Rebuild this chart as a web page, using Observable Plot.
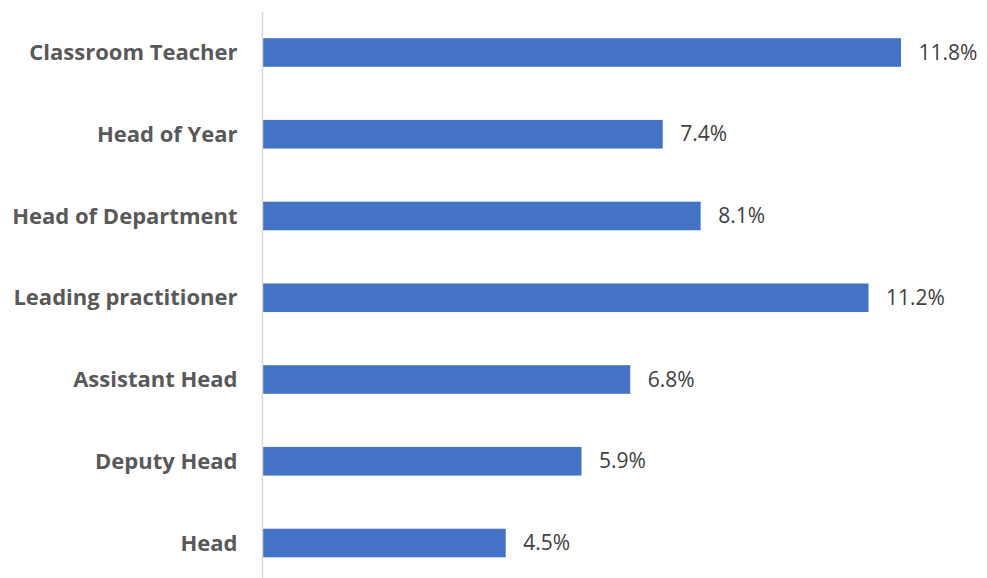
<!DOCTYPE html>
<html>
<head>
<meta charset="utf-8">
<script src="https://cdn.jsdelivr.net/npm/d3@7"></script>
<script src="https://cdn.jsdelivr.net/npm/@observablehq/plot@0.6"></script>
<style>
  html, body { margin: 0; padding: 0; background: #fff; }
  #chart svg { display: block; }
</style>
</head>
<body>
<div id="chart"></div>
<script>
const roles = ["Classroom Teacher", "Head of Year", "Head of Department", "Leading practitioner", "Assistant Head", "Deputy Head", "Head"];
const values = [11.8, 7.4, 8.1, 11.2, 6.8, 5.9, 4.5];

const data = roles.map((r, i) => ({ role: r, value: values[i] }));

const chart = Plot.plot({
  width: 987,
  height: 578,
  marginLeft: 262,
  marginRight: 86,
  marginTop: 12,
  marginBottom: 0,
  style: { fontFamily: "'Open Sans', sans-serif", background: "#fff" },
  x: { domain: [0, 11.8], range: [262, 901], axis: null },
  y: { domain: roles, range: [11.6, 583.9], paddingInner: 0.65, paddingOuter: 0.325, round: false, label: null },
  marks: [
    Plot.barX(data, { y: "role", x: "value", fill: "#4472C4" }),
    Plot.ruleX([0], { stroke: "#d9d9d9", strokeWidth: 1.5 }),
    Plot.text(data, {
      y: "role", x: "value", text: d => d.value.toFixed(1) + "%",
      textAnchor: "start", dx: 17, fontSize: 21, fill: "#404040"
    }),
    Plot.axisY({ tickSize: 0, tickPadding: 25, fontSize: 22, fontWeight: "bold", fill: "#595959", label: null })
  ]
});
chart.querySelectorAll("[aria-label='y-axis tick label']").forEach(e => {
  e.setAttribute("font-size", 22); e.setAttribute("font-weight", "bold");
});
document.getElementById("chart").appendChild(chart);
</script>
</body>
</html>
